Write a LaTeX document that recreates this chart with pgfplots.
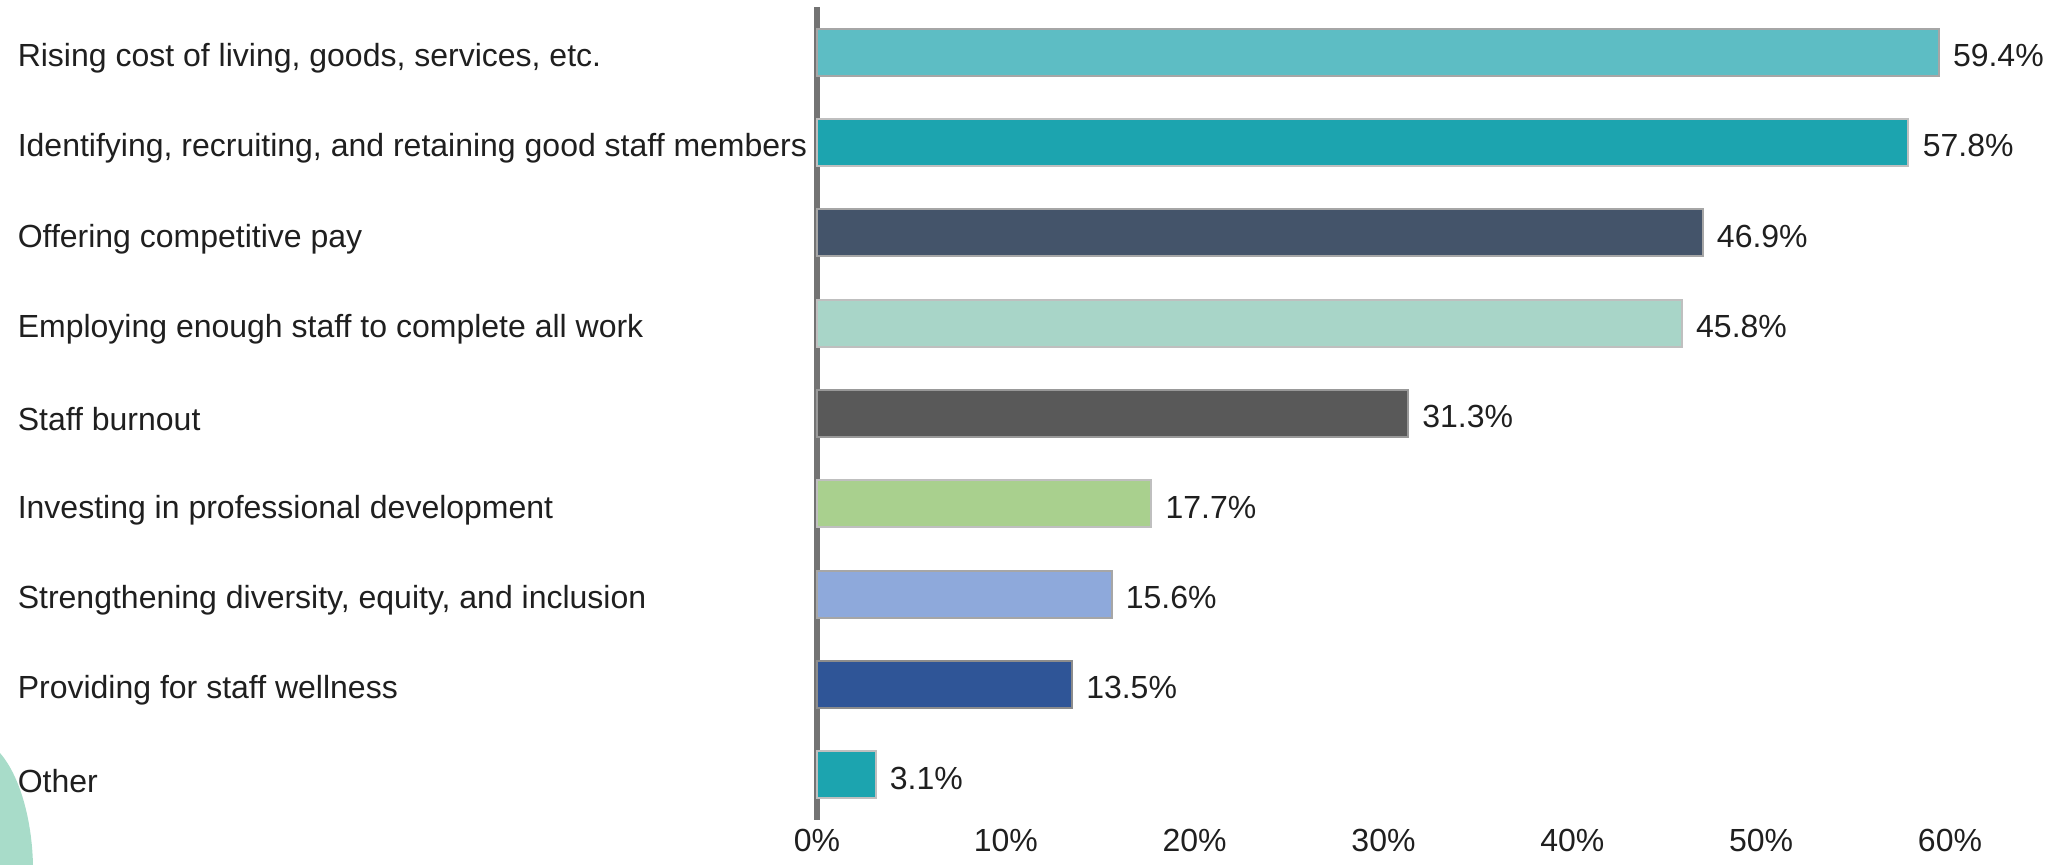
\documentclass[border=0pt]{standalone}
\usepackage{fontspec}
\setmainfont{Liberation Sans}
\usepackage{pgfplots}
\pgfplotsset{compat=1.18}

\definecolor{cTealLight}{HTML}{5DBDC4}
\definecolor{cTeal}{HTML}{1CA4AF}
\definecolor{cSlate}{HTML}{44546A}
\definecolor{cMint}{HTML}{A8D5C8}
\definecolor{cGray}{HTML}{595959}
\definecolor{cGreen}{HTML}{A9D08E}
\definecolor{cBlueLight}{HTML}{8EA9DB}
\definecolor{cBlue}{HTML}{2F5597}
\definecolor{cDeco}{HTML}{A8DCC9}

\begin{document}
\begin{tikzpicture}
  % page: 2054 x 865 px at 0.25pt per px
  \path[use as bounding box] (0,0) rectangle (513.5pt,-216.25pt);
  \fill[cDeco] (0,-188.25pt) .. controls (5pt,-194pt) and (8pt,-205pt) .. (8.25pt,-216.25pt) -- (0,-216.25pt) -- cycle;

  \begin{axis}[
    at={(204.25pt,-205pt)}, anchor=south west,
    scale only axis,
    width=283.25pt, height=203.25pt,
    xbar, bar width=11.75pt, bar shift=0pt,
    xmin=0, xmax=60, ymin=-0.5, ymax=8.5,
    y dir=reverse,
    axis lines*=left,
    x axis line style={draw=none},
    y axis line style={-, draw=black!55, line width=1.6pt},
    major tick length=0pt,
    xtick={0,10,...,60},
    xticklabel={\pgfmathprintnumber{\tick}\%},
    xticklabel style={yshift=-0.6pt, inner ysep=1.5pt},
    ytick={0,...,8},
    yticklabels={
      {Rising cost of living, goods, services, etc.},
      {Identifying, recruiting, and retaining good staff members},
      {Offering competitive pay},
      {Employing enough staff to complete all work},
      {Staff burnout},
      {Investing in professional development},
      {Strengthening diversity, equity, and inclusion},
      {Providing for staff wellness},
      {Other}},
    yticklabel style={anchor=west, inner xsep=0pt, xshift=-200pt, yshift=-1.5pt},
    tick label style={font=\fontsize{8}{9.6}\selectfont, text=black!88},
    /pgf/number format/assume math mode=true,
    nodes near coords={\pgfmathprintnumber[fixed,precision=1,fixed zerofill]{\pgfplotspointmeta}\%},
    every node near coord/.append style={font=\fontsize{8}{9.6}\selectfont, text=black!88, yshift=-0.8pt},
    clip=false,
  ]
    \addplot[fill=cTealLight, draw=black!35, line width=0.5pt] coordinates {(59.4,0)};
    \addplot[fill=cTeal, draw=black!25, line width=0.5pt] coordinates {(57.8,1)};
    \addplot[fill=cSlate, draw=black!35, line width=0.5pt] coordinates {(46.9,2)};
    \addplot[fill=cMint, draw=black!25, line width=0.5pt] coordinates {(45.8,3)};
    \addplot[fill=cGray, draw=black!40, line width=0.5pt] coordinates {(31.3,4)};
    \addplot[fill=cGreen, draw=black!25, line width=0.5pt] coordinates {(17.7,5)};
    \addplot[fill=cBlueLight, draw=black!35, line width=0.5pt] coordinates {(15.6,6)};
    \addplot[fill=cBlue, draw=black!45, line width=0.5pt] coordinates {(13.5,7)};
    \addplot[fill=cTeal, draw=black!25, line width=0.5pt] coordinates {(3.1,8)};
  \end{axis}
\end{tikzpicture}
\end{document}
